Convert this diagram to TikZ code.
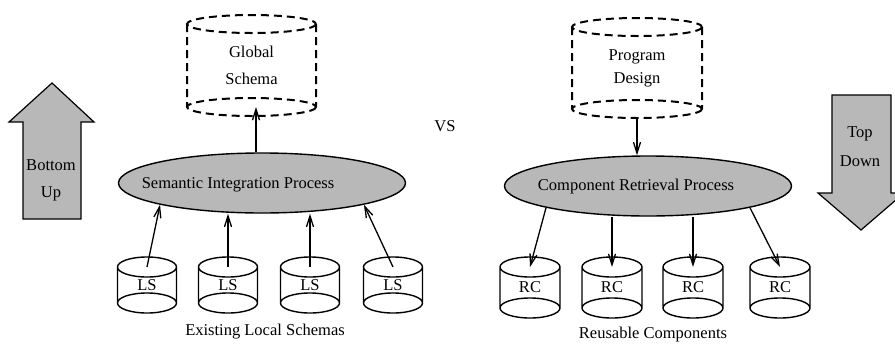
\documentclass[tikz,border=0pt]{standalone}
\usepackage{fontspec}
\setmainfont{Liberation Serif}
\usetikzlibrary{shapes.geometric,arrows.meta,calc}

% outline of a cylinder around a rectangular node: both end ellipses and the sides
\newcommand\cylsides[4]{%
  \draw[#4] (#1.north) ellipse [x radius=#2, y radius=#3]
            (#1.south) ellipse [x radius=#2, y radius=#3]
            (#1.north west) -- (#1.south west)
            (#1.north east) -- (#1.south east);}

\tikzset{
  txt/.style={font=\fontsize{16.5}{27}\selectfont, inner sep=0pt, align=center},
  process/.style={ellipse, draw, line width=1.4pt, fill=black!28,
                  minimum width=287pt, minimum height=60pt, inner sep=0pt},
  cylbox/.style={rectangle, inner sep=0pt, outer sep=0pt,
                 font=\fontsize{16.5}{27}\selectfont, align=center},
  link/.style={-{Straight Barb[length=11pt,width=7pt]}, line width=1.3pt},
  bigarrow/.style={draw, line width=1.2pt, fill=black!28},
  solidcyl/.style={line width=1.4pt},
  dashcyl/.style={line width=2pt, dash pattern=on 8pt off 5pt},
}

\begin{document}
\begin{tikzpicture}[x=1pt,y=-1pt]
\useasboundingbox (0,0) rectangle (895,346);

% ---------- bottom-up side ----------
\draw[bigarrow] (23,219) -- (23,122) -- (9,122) -- (52,83) -- (94,122)
                -- (81,122) -- (81,219) -- cycle;
\node[txt] (bu) at (51,180) {Bottom\\Up};

\node[cylbox, minimum width=129pt, minimum height=83pt] (gs) at (251.5,65.5) {Global\\Schema};
\cylsides{gs}{64.5}{9}{dashcyl}

\node[process, label={[name=siptxt, txt, xshift=-24pt, yshift=-2pt]center:Semantic Integration Process}]
  (sip) at (262,183) {};

\foreach \i/\x in {1/147, 2/228, 3/310, 4/393} {
  \node[cylbox, minimum width=59pt, minimum height=36pt] (ls\i) at (\x,285) {LS};
  \cylsides{ls\i}{29.5}{10}{solidcyl}
}

\draw[link] ([xshift=-6pt]sip.north) -- ([xshift=-6pt]sip.north |- gs.south);
\draw[link] (ls1.north) -- (sip.south west);
\draw[link] (ls2.north) -- (ls2.north |- sip.south);
\draw[link] (ls3.north) -- (ls3.north |- sip.south);
\draw[link] (ls4.north) -- (sip.south east);

\node[txt] (lsnote) at (265,332) {Existing Local Schemas};

\node[txt] (vs) at (445,126) {VS};

% ---------- top-down side ----------
\node[cylbox, minimum width=130pt, minimum height=82pt, font=\fontsize{16.5}{23}\selectfont]
  (pd) at (637,68) {Program\\Design};
\cylsides{pd}{65}{9}{dashcyl}

\node[process, label={[name=crptxt, txt, xshift=-12pt, yshift=-1pt]center:Component Retrieval Process}]
  (crp) at (648,186) {};

\foreach \i/\x in {1/530, 2/612, 3/693, 4/780} {
  \node[cylbox, minimum width=60pt, minimum height=41pt] (rc\i) at (\x,287.5) {RC};
  \cylsides{rc\i}{30}{10}{solidcyl}
}

\draw[link] ([yshift=-9pt]pd.south) -- (pd.south |- crp.north);
\draw[link] (crp.south west) -- (rc1.north);
\draw[link] (rc2.north |- crp.south) -- (rc2.north);
\draw[link] (rc3.north |- crp.south) -- (rc3.north);
\draw[link] (crp.south east) -- (rc4.north);

\node[txt] (rcnote) at (653,335) {Reusable Components};

\draw[bigarrow] (832,95) -- (891,95) -- (891,193) -- (904,193) -- (861,230)
                -- (818,193) -- (832,193) -- cycle;
\node[txt] (td) at (860,146.5) {Top\\[2pt]Down};
\end{tikzpicture}
\end{document}
